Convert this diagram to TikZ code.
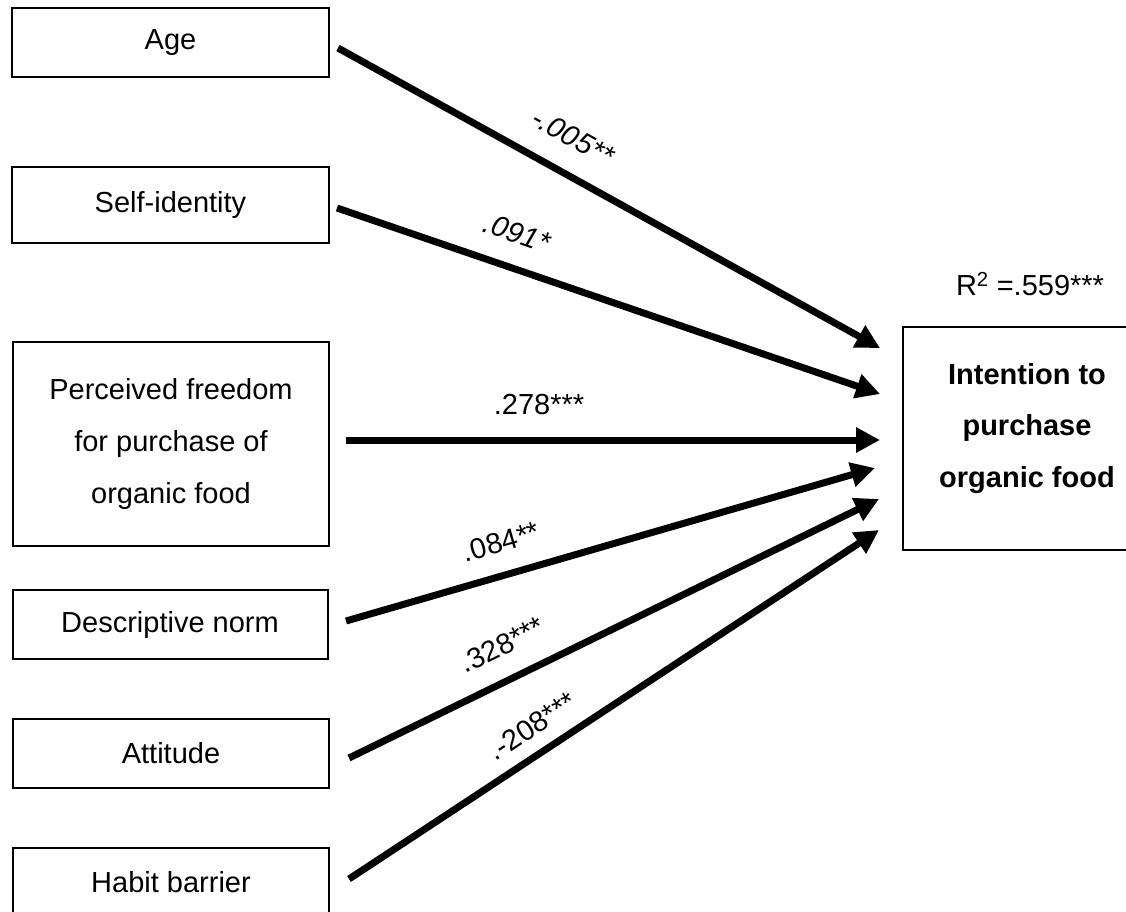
\documentclass[tikz,border=0pt]{standalone}
\usepackage{fontspec}
\setmainfont{Liberation Sans}
\usetikzlibrary{arrows.meta}
\begin{document}
\begin{tikzpicture}[x=1pt,y=-1pt,
  every node/.style={font=\fontsize{29}{52}\selectfont},
  varbox/.style={draw, line width=2pt, inner sep=0pt, align=center},
  path/.style={line width=7pt, -{Triangle[length=24pt,width=24pt]}},
  coef/.style={inner sep=0pt}]
\clip (0,0) rectangle (1126,911);
\fill[white] (0,0) rectangle (1126,911);

% predictor boxes
\node[varbox, minimum width=317pt, minimum height=69pt]  (age)  at (170.5,42.5) {Age};
\node[varbox, minimum width=317pt, minimum height=76pt]  (self) at (170.5,205)  {Self-identity};
\node[varbox, minimum width=316pt, minimum height=204pt] (free) at (171,444)    {Perceived freedom\\for purchase of\\organic food};
\node[varbox, minimum width=315pt, minimum height=69pt]  (desc) at (170,624.5)  {Descriptive norm};
\node[varbox, minimum width=316pt, minimum height=69pt]  (att)  at (171,753.5)  {Attitude};
\node[varbox, minimum width=316pt, minimum height=68pt]  (hab)  at (171,882)    {Habit barrier};

% outcome box
\node[varbox, minimum width=248pt, minimum height=223pt,
      label={[yshift=10pt,align=center,font=\fontsize{29}{51.5}\selectfont\bfseries]center:Intention to\\purchase\\organic food}]
      (int) at (1027,438.5) {};
\node (r2) at (1030,284) {R\textsuperscript{2} =.559***};

% arrow end points
\coordinate (s1) at (338,48);  \coordinate (t1) at (880,348);
\coordinate (s2) at (337,208); \coordinate (t2) at (880,394);
\coordinate (s3) at (346,440); \coordinate (t3) at (880,440);
\coordinate (s4) at (346,621); \coordinate (t4) at (875,468);
\coordinate (s5) at (349,758); \coordinate (t5) at (879,499);
\coordinate (s6) at (349,879); \coordinate (t6) at (879,530);

\draw[path] (s1) -- (t1);
\draw[path] (s2) -- (t2);
\draw[path] (s3) -- (t3);
\draw[path] (s4) -- (t4);
\draw[path] (s5) -- (t5);
\draw[path] (s6) -- (t6);

% path coefficients
\node[coef, rotate=-29.1] (c1) at (573,137) {\itshape -.005**};
\node[coef, rotate=-19.3] (c2) at (517,233) {\itshape .091*};
\node[coef]               (c3) at (539,405) {.278***};
\node[coef, rotate=16.2]  (c4) at (501,542) {.084**};
\node[coef, rotate=26.3]  (c5) at (502,645) {.328***};
\node[coef, rotate=33.4]  (c6) at (532,726) {.-208***};
\end{tikzpicture}
\end{document}
